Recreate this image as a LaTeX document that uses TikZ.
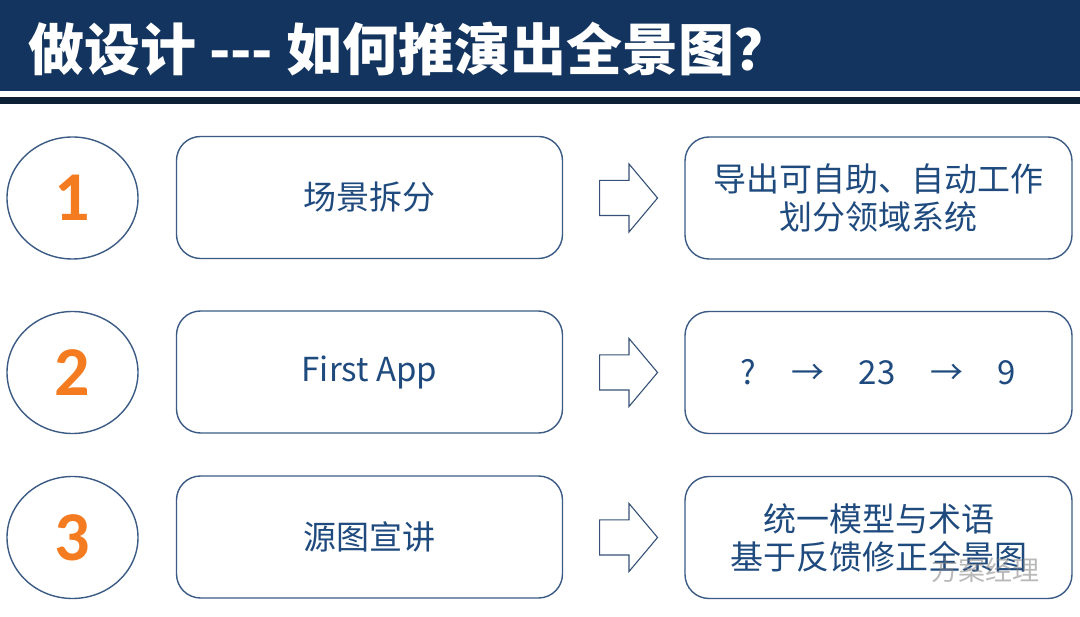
\documentclass[tikz,border=0pt]{standalone}
\usepackage{fontspec}
\setmainfont{Noto Sans CJK SC}
\newfontfamily\numfont{Carlito}
\usepackage{xcolor}
\usetikzlibrary{shapes.geometric,shapes.arrows}
\definecolor{navy}{HTML}{12345E}
\definecolor{darkstripe}{HTML}{0E2036}
\definecolor{edge}{HTML}{3B5A84}
\definecolor{txtblue}{HTML}{1F4A7E}
\definecolor{numorange}{HTML}{F47B20}
\tikzset{
	numcirc/.style = {ellipse, draw = edge, line width = 1.4pt, minimum width = 131pt, minimum height = 122pt, inner sep = 0pt},
	stepbox/.style = {draw = edge, line width = 1.4pt, rounded corners = 24pt, minimum width = 386pt, minimum height = 122pt, inner sep = 0pt,
		text = txtblue, align = center, font = \fontsize{33}{38}\selectfont},
	fatarrow/.style = {single arrow, draw = edge!90!black, line width = 1.1pt, inner xsep = 0pt, inner ysep = 17pt,
		text height = 0pt, text depth = 0pt, minimum height = 58pt, single arrow head extend = 16.5pt, single arrow tip angle = 100},
	numtext/.style = {text = numorange, font = \numfont\bfseries\fontsize{70}{70}\selectfont}
}
\begin{document}
\begin{tikzpicture}[x = 1pt, y = -1pt]
	\useasboundingbox (0,0) rectangle (1080,617);
	\fill[navy] (0,0) rectangle (1080,91);
	\fill[darkstripe] (0,97) rectangle (1080,104);
	\node[anchor = west, text = white, font = \bfseries\fontsize{56}{56}\selectfont, inner sep = 0pt] (title) at (28,49) {做设计 {-}{-}{-} 如何推演出全景图？};
	\foreach \i/\y in {1/198, 2/372.5, 3/537.5} {
		\node[numcirc] (c\i) at (72.5,\y) {};
		\node[numtext] (n\i) at (72.5,\y) {\i};
		\node[fatarrow, anchor = tail] (a\i) at (599,\y) {};
	}
	\node[stepbox] (m1) at (369.5,197.5) {场景拆分};
	\node[stepbox] (m2) at (369.5,372) {First App};
	\node[stepbox] (m3) at (369.5,537) {源图宣讲};
	\node[stepbox, minimum width = 387pt] (r1) at (878.5,198) {导出可自助、自动工作\\划分领域系统};
	\node[stepbox, minimum width = 387pt] (r2) at (878.5,372.5) {?\hspace{1.05em}→\hspace{1.05em}23\hspace{1.05em}→\hspace{1.05em}9};
	\node[stepbox, minimum width = 387pt] (r3) at (878.5,537.5) {统一模型与术语\\基于反馈修正全景图};
	\node[text = gray, opacity = 0.55, font = \fontsize{27}{27}\selectfont, anchor = west] (wm) at (928,570) {方案经理};
\end{tikzpicture}
\end{document}
